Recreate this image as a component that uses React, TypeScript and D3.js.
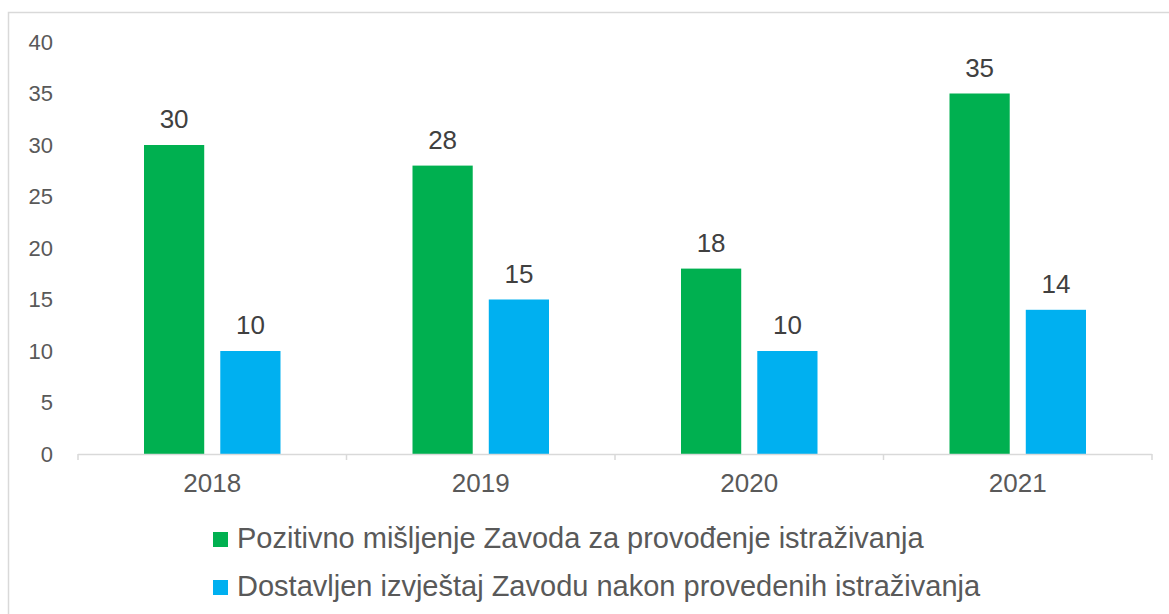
import React from 'react';
import * as d3 from 'd3';

const years = ['2018', '2019', '2020', '2021'];
const pozitivno = [30, 28, 18, 35];
const dostavljen = [10, 15, 10, 14];
const seriesNames = [
  'Pozitivno mišljenje Zavoda za provođenje istraživanja',
  'Dostavljen izvještaj Zavodu nakon provedenih istraživanja',
];
const yTicks = [0, 5, 10, 15, 20, 25, 30, 35, 40];

const colors = ['#00B050', '#00B0F0'];
const font = 'Liberation Sans, Arial, sans-serif';

const App = () => {
  const W = 1169, H = 614;
  const left = 78, right = 1152, top = 42, bottom = 454;

  const x = d3.scaleBand().domain(years).range([left, right]).paddingInner(0).paddingOuter(0);
  const y = d3.scaleLinear().domain([0, 40]).range([bottom, top]);
  // two bars of 60px with a 16px gap, centred in each category
  const inner = d3.scaleBand().domain(['0', '1']).range([66, x.bandwidth() - 66]).paddingInner(16 / 76);

  const series = [pozitivno, dostavljen];

  return (
    <div style={{ position: 'absolute', left: 0, top: 0 }}>
      <svg width={W} height={H} style={{ display: 'block', fontFamily: font }}>
        <rect x={0} y={0} width={W} height={H} fill="#fff" />
        <rect x={8.5} y={12.5} width={W + 20} height={H + 20} fill="none" stroke="#d9d9d9" strokeWidth={1.5} />

        {/* y labels */}
        {yTicks.map((t) => (
          <text key={t} x={53} y={y(t)} dy="0.35em" textAnchor="end" fontSize={22} fill="#595959">{t}</text>
        ))}

        {/* bars */}
        {series.map((vals, si) =>
          years.map((yr, i) => {
            const bx = (x(yr) as number) + (inner(String(si)) as number);
            const bw = inner.bandwidth();
            return (
              <g key={yr + si}>
                <rect x={bx} y={y(vals[i])} width={bw} height={bottom - y(vals[i])} fill={colors[si]} />
                <text x={bx + bw / 2} y={y(vals[i]) - 17} textAnchor="middle" fontSize={26} fill="#404040">{vals[i]}</text>
              </g>
            );
          })
        )}

        {/* x axis */}
        <line x1={left} x2={right} y1={bottom + 0.5} y2={bottom + 0.5} stroke="#d9d9d9" strokeWidth={1.5} />
        {[...years.map((yr) => x(yr) as number), right].map((tx, i) => (
          <line key={i} x1={tx} x2={tx} y1={bottom} y2={bottom + 6} stroke="#d9d9d9" strokeWidth={1.5} />
        ))}
        {years.map((yr) => (
          <text key={yr} x={(x(yr) as number) + x.bandwidth() / 2} y={492} textAnchor="middle" fontSize={26} fill="#595959">{yr}</text>
        ))}

        {/* legend */}
        {seriesNames.map((name, i) => (
          <g key={name} transform={`translate(213, ${532 + i * 48})`}>
            <rect x={0} y={0} width={15} height={15} fill={colors[i]} />
            <text x={24} y={16} fontSize={29} fill="#595959">{name}</text>
          </g>
        ))}
      </svg>
    </div>
  );
};

export default App;
